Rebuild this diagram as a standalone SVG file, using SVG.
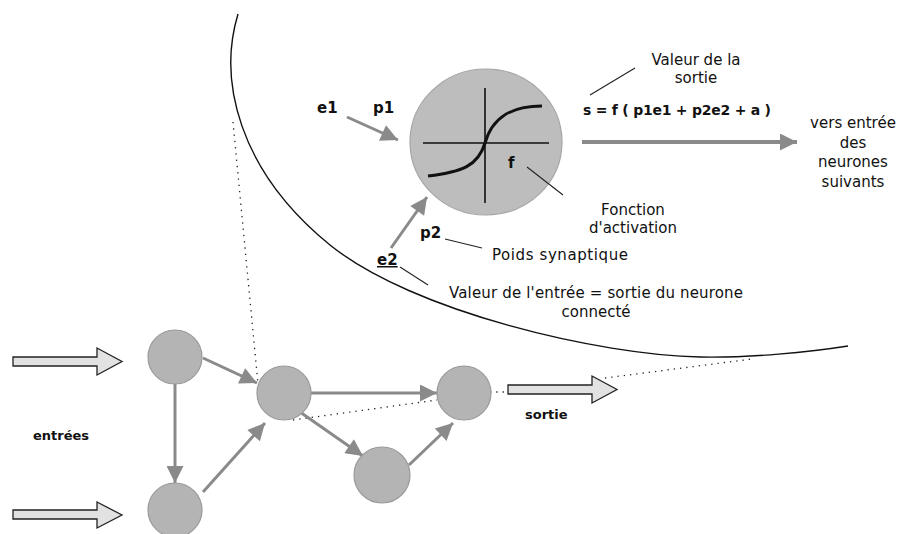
<svg xmlns="http://www.w3.org/2000/svg" width="902" height="534" viewBox="0 0 902 534">
<style>
.node{fill:#b4b4b4;stroke:#9a9a9a;stroke-width:1.2}
.big{fill:#bdbdbd;stroke:#a5a5a5;stroke-width:1.2}
.conn{stroke:#8a8a8a;stroke-width:3;fill:none;marker-end:url(#ah)}
.blk{fill:#e2e2e2;stroke:#222;stroke-width:1.3}
.dot{stroke:#222;stroke-width:1.3;fill:none;stroke-dasharray:1.3 5}
.lead{stroke:#222;stroke-width:1.1;fill:none}
.b{font-family:"DejaVu Sans",sans-serif;font-weight:bold;fill:#111}
.r{font-family:"DejaVu Sans",sans-serif;font-size:15px;fill:#111}
</style>
<defs>
<marker id="ah" viewBox="0 0 10 10" refX="10" refY="5" markerWidth="19" markerHeight="17" markerUnits="userSpaceOnUse" orient="auto">
<path d="M0,0 L10,5 L0,10 z" fill="#8a8a8a"/>
</marker>
</defs>
<rect width="902" height="534" fill="#fff"/>

<path d="M238,14 C218,80 238,170 330,245 C413,312 600,355 700,357 C750,358 810,352 848,346" fill="none" stroke="#111" stroke-width="1.4"/>

<g id="neuron">
<ellipse class="big" cx="486" cy="142" rx="76" ry="73"/>
<path d="M423,143 L549,143 M485,88 L485,203" stroke="#111" stroke-width="1.6" fill="none"/>
<path d="M428,176 C462,172 478,166 485,143 C492,118 510,106 542,106" stroke="#111" stroke-width="3" fill="none"/>
<text class="b" x="508" y="168" font-size="15">f</text>
</g>

<g id="connectors">
<path class="dot" d="M233,122 L258,384"/>
<path class="dot" d="M293,420 L437,400"/>
<path class="dot" d="M490,392 L508,392"/>
<path class="dot" d="M605,378 L752,359"/>
<path class="conn" d="M347,117 L398,140"/>
<path class="conn" d="M391,248 L427,197"/>
<path class="conn" style="stroke-width:4" d="M582,142 L797,142"/>
<path class="conn" d="M203,358 L257,383"/>
<path class="conn" d="M175,384 L175,483"/>
<path class="conn" d="M203,492 L265,423"/>
<path class="conn" d="M311,393 L437,393"/>
<path class="conn" d="M300,412 L363,456"/>
<path class="conn" d="M409,465 L453,423"/>
<path class="lead" d="M527,167 L563,195"/>
<path class="lead" d="M590,95 L635,68"/>
<path class="lead" d="M445,239 L482,248"/>
<path class="lead" d="M400,267 L428,285"/>
</g>

<g id="node-a"><circle class="node" cx="175" cy="357" r="27"/></g>
<g id="node-b"><circle class="node" cx="175" cy="510" r="27"/></g>
<g id="node-c"><circle class="node" cx="284" cy="393" r="27"/></g>
<g id="node-d"><circle class="node" cx="464" cy="393" r="27"/></g>
<g id="node-e"><circle class="node" cx="382" cy="475" r="28"/></g>

<g id="input-1"><polygon class="blk" points="13,357 97,357 97,348 122,361.5 97,375 97,366 13,366"/></g>
<g id="input-2"><polygon class="blk" points="13,510 97,510 97,502 122,515 97,528 97,519 13,519"/></g>
<g id="output"><polygon class="blk" points="508,385 592,385 592,376 617,389.5 592,403 592,394 508,394"/></g>

<g id="labels">
<text class="b" x="317" y="113" font-size="15">e1</text>
<text class="b" x="373" y="113" font-size="15">p1</text>
<text class="b" x="377" y="265" font-size="15" text-decoration="underline">e2</text>
<text class="b" x="420" y="238" font-size="15">p2</text>
<text class="b" x="33" y="440" font-size="13">entrées</text>
<text class="b" x="525" y="419" font-size="13">sortie</text>
<text class="b" x="583" y="115" font-size="14" textLength="188" lengthAdjust="spacing">s = f ( p1e1 + p2e2 + a )</text>
<text class="r" x="696" y="65" text-anchor="middle">Valeur de la</text>
<text class="r" x="696" y="83" text-anchor="middle">sortie</text>
<text class="r" x="853" y="128" text-anchor="middle">vers entrée</text>
<text class="r" x="853" y="148" text-anchor="middle">des</text>
<text class="r" x="853" y="167" text-anchor="middle">neurones</text>
<text class="r" x="853" y="187" text-anchor="middle">suivants</text>
<text class="r" x="633" y="215" text-anchor="middle">Fonction</text>
<text class="r" x="633" y="233" text-anchor="middle">d'activation</text>
<text class="r" x="492" y="260" textLength="136" lengthAdjust="spacing">Poids synaptique</text>
<text class="r" x="449" y="298" textLength="294" lengthAdjust="spacing">Valeur de l'entrée = sortie du neurone</text>
<text class="r" x="596" y="317" text-anchor="middle">connecté</text>
</g>
</svg>
